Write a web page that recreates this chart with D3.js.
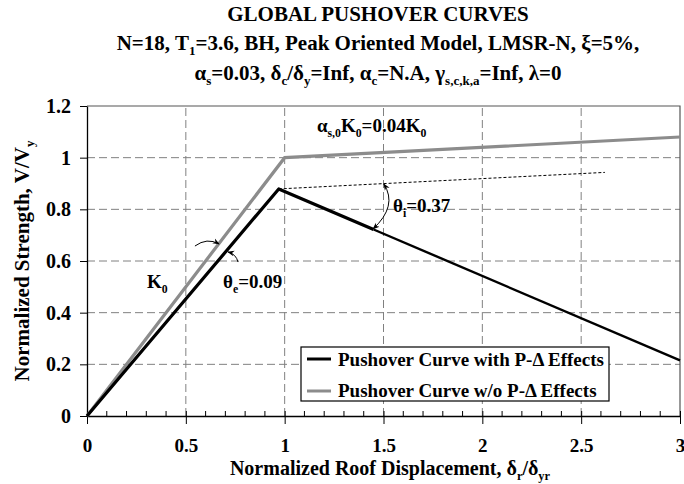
<!DOCTYPE html>
<html>
<head>
<meta charset="utf-8">
<script src="https://cdn.jsdelivr.net/npm/d3@7"></script>
<style>
  body { margin: 0; background: #fff; }
  svg text { font-family: "Liberation Serif", "Times New Roman", serif; font-weight: bold; fill: #000; }
</style>
</head>
<body>
<div id="chart"></div>
<script>
// data
const xTicks = [0, 0.5, 1, 1.5, 2, 2.5, 3];
const yTicks = [0, 0.2, 0.4, 0.6, 0.8, 1, 1.2];
const dispWithPD = [0, 0.97, 1.45, 3];
const strengthWithPD = [0, 0.879, 0.722, 0.215];
const dispNoPD = [0, 1, 3];
const strengthNoPD = [0, 1, 1.08];
const refDisp = [0.97, 2.62];
const refStrength = [0.879, 0.943];
const legendLabels = ["Pushover Curve with P-\u0394 Effects", "Pushover Curve w/o P-\u0394 Effects"];

let svgWidth = 684, svgHeight = 484;
let margin = { top: 106, right: 4, bottom: 68, left: 87 };
let width = svgWidth - margin.left - margin.right;
let height = svgHeight - margin.top - margin.bottom;

let svg = d3.select("#chart").append("svg")
    .attr("width", svgWidth)
    .attr("height", svgHeight);

let x = d3.scaleLinear().domain([0, 3]).range([margin.left, margin.left + width]);
let y = d3.scaleLinear().domain([0, 1.2]).range([margin.top + height, margin.top]);

// writes text made of [string, isSub] parts
function richText(g, parts, size) {
    let t = g.append("text").style("font-size", size + "px");
    let shift = 0;
    parts.forEach(p => {
        let want = p[1] ? size * 0.25 : 0;
        let s = t.append("tspan").text(p[0]).attr("dy", want - shift);
        if (p[1]) s.style("font-size", (size * 0.62) + "px");
        shift = want;
    });
    return t;
}

// title
let titleX = 378;
svg.append("text").attr("x", titleX).attr("y", 21).attr("text-anchor", "middle")
    .style("font-size", "21px").text("GLOBAL PUSHOVER CURVES");
richText(svg, [["N=18, T"], ["1", 1], ["=3.6, BH, Peak Oriented Model, LMSR-N, \u03BE=5%,"]], 21)
    .attr("x", titleX).attr("y", 50).attr("text-anchor", "middle");
richText(svg, [["\u03B1"], ["s", 1], ["=0.03, \u03B4"], ["c", 1], ["/\u03B4"], ["y", 1], ["=Inf, \u03B1"], ["c", 1],
    ["=N.A, \u03B3"], ["s,c,k,a", 1], ["=Inf, \u03BB=0"]], 21)
    .attr("x", titleX).attr("y", 80).attr("text-anchor", "middle");

// grid
let grid = svg.append("g").attr("stroke", "#808080").attr("stroke-dasharray", "8,4").attr("stroke-width", 1);
grid.selectAll(".hg").data(yTicks.filter(v => v > 0 && v < 1.2)).enter().append("line")
    .attr("x1", x(0)).attr("x2", x(3)).attr("y1", d => y(d)).attr("y2", d => y(d));
grid.selectAll(".vg").data(xTicks.filter(v => v > 0 && v < 3)).enter().append("line")
    .attr("y1", y(0)).attr("y2", y(1.2)).attr("x1", d => x(d)).attr("x2", d => x(d));

// frame top / right
svg.append("path")
    .attr("d", `M${x(0)},${y(1.2)}H${x(3)}V${y(0)}`)
    .attr("fill", "none").attr("stroke", "#555").attr("stroke-width", 1.2);

// axes
let xAxis = svg.append("g").attr("transform", `translate(0,${y(0)})`)
    .call(d3.axisBottom(x).tickValues(xTicks).tickSize(8).tickSizeOuter(0).tickFormat(d3.format("~g")));
xAxis.selectAll(".tick line").attr("y1", -5);
xAxis.selectAll("text").style("font-size", "19px").attr("y", 36).attr("dy", 0);
xAxis.select(".domain").attr("stroke-width", 1.3);
// minor ticks
xAxis.selectAll(".minor").data(d3.range(1, 30).filter(i => i % 5 !== 0).map(i => i / 10)).enter()
    .append("line").attr("x1", d => x(d)).attr("x2", d => x(d)).attr("y1", 0).attr("y2", -5)
    .attr("stroke", "#000");

let yAxis = svg.append("g").attr("transform", `translate(${x(0)},0)`)
    .call(d3.axisLeft(y).tickValues(yTicks).tickSize(7).tickSizeOuter(0).tickPadding(9).tickFormat(d3.format("~g")));
yAxis.selectAll("text").style("font-size", "20px");
yAxis.select(".domain").attr("stroke-width", 1.3);
svg.selectAll(".domain").attr("stroke", "#000");

// axis titles
richText(svg, [["Normalized Roof Displacement, \u03B4"], ["r", 1], ["/\u03B4"], ["yr", 1]], 20)
    .attr("x", 390).attr("y", 475).attr("text-anchor", "middle");
richText(svg, [["Normalized Strength, V/V"], ["y", 1]], 21)
    .attr("text-anchor", "middle")
    .attr("transform", `translate(29,${(y(0) + y(1.2)) / 2}) rotate(-90)`);

// curves
let line = d3.line().x(d => x(d[0])).y(d => y(d[1]));
let noPD = d3.zip(dispNoPD, strengthNoPD);
let withPD = d3.zip(dispWithPD, strengthWithPD);
let ref = d3.zip(refDisp, refStrength);

svg.append("path").datum(ref).attr("d", line)
    .attr("fill", "none").attr("stroke", "#000").attr("stroke-width", 1).attr("stroke-dasharray", "3,2");
svg.append("path").datum(noPD).attr("d", line)
    .attr("fill", "none").attr("stroke", "#8c8c8c").attr("stroke-width", 3.2);
// thick part up to the kink, thinner tail after it
svg.append("path").datum(withPD.slice(0, 3)).attr("d", line)
    .attr("fill", "none").attr("stroke", "#000").attr("stroke-width", 3.2).attr("stroke-linejoin", "round");
svg.append("path").datum(withPD.slice(2)).attr("d", line)
    .attr("fill", "none").attr("stroke", "#000").attr("stroke-width", 2.4);

// arrow marker
let defs = svg.append("defs");
defs.append("marker").attr("id", "ah").attr("viewBox", "0 0 10 10").attr("refX", 9).attr("refY", 5)
    .attr("markerWidth", 7).attr("markerHeight", 7).attr("orient", "auto-start-reverse")
    .append("path").attr("d", "M0,1L10,5L0,9L3,5Z").attr("fill", "#000");

function arc(p0, c, p1, both) {
    let p = svg.append("path")
        .attr("d", `M${x(p0[0])},${y(p0[1])}Q${x(c[0])},${y(c[1])} ${x(p1[0])},${y(p1[1])}`)
        .attr("fill", "none").attr("stroke", "#000").attr("stroke-width", 1)
        .attr("marker-end", "url(#ah)");
    if (both) p.attr("marker-start", "url(#ah)");
}
arc([0.546, 0.658], [0.607, 0.692], [0.668, 0.666], false);
arc([0.764, 0.596], [0.754, 0.627], [0.713, 0.635], false);
arc([1.447, 0.724], [1.573, 0.813], [1.502, 0.898], true);

// annotations
richText(svg, [["\u03B1"], ["s,0", 1], ["K"], ["0", 1], ["=0.04K"], ["0", 1]], 19)
    .attr("x", x(1.163)).attr("y", y(1.099));
richText(svg, [["K"], ["0", 1]], 19).attr("x", x(0.304)).attr("y", y(0.495));
richText(svg, [["\u03B8"], ["e", 1], ["=0.09"]], 19).attr("x", x(0.688)).attr("y", y(0.495));
richText(svg, [["\u03B8"], ["i", 1], ["=0.37"]], 19).attr("x", x(1.548)).attr("y", y(0.79));

// legend
let lg = svg.append("g").attr("transform", "translate(301,347)");
lg.append("rect").attr("width", 308).attr("height", 54)
    .attr("fill", "#fff").attr("stroke", "#000").attr("stroke-width", 1.2);
let legendColors = ["#000", "#8c8c8c"];
legendLabels.forEach((lab, i) => {
    lg.append("line").attr("x1", 6).attr("x2", 30).attr("y1", 12 + i * 32).attr("y2", 12 + i * 32)
        .attr("stroke", legendColors[i]).attr("stroke-width", 3);
    lg.append("text").attr("x", 37).attr("y", 19 + i * 31).style("font-size", "19px").text(lab);
});
</script>
</body>
</html>
